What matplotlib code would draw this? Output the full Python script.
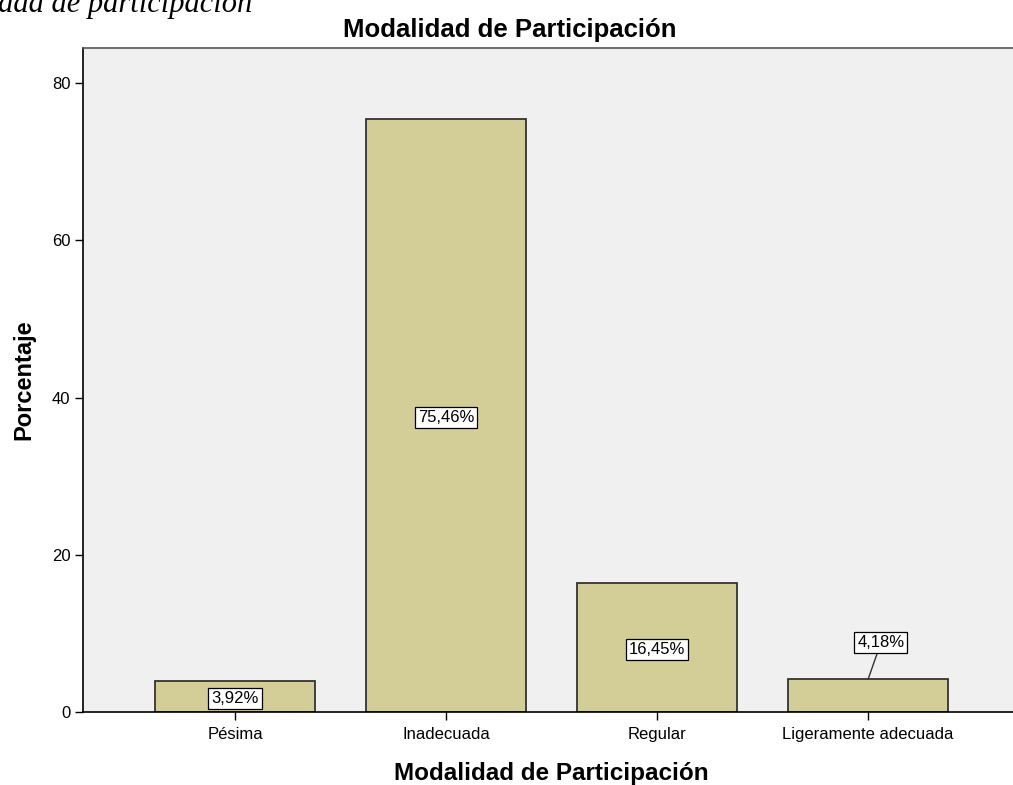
import matplotlib.pyplot as plt

categorias = ['Pésima', 'Inadecuada', 'Regular', 'Ligeramente adecuada']
porcentajes = [3.92, 75.46, 16.45, 4.18]
etiquetas = ['3,92%', '75,46%', '16,45%', '4,18%']

plt.rcParams['font.family'] = ['Liberation Sans', 'DejaVu Sans']

fig = plt.figure(figsize=(10.13, 7.85), dpi=100)
ax = fig.add_axes([0.082, 0.093, 0.925, 0.846])
ax.set_facecolor('#f0f0f0')

x = range(len(categorias))
ax.bar(x, porcentajes, width=0.755, color='#d3ce97', edgecolor='#333333', linewidth=1.3, zorder=2)

caja = dict(boxstyle='square,pad=0.18', facecolor='white', edgecolor='black', linewidth=0.9)
for i, (v, t) in enumerate(zip(porcentajes, etiquetas)):
    if i == 3:
        # etiqueta encima de la barra con línea guía
        ax.annotate(t, xy=(i, v), xytext=(i + 0.06, v + 4.6), ha='center', va='center',
                    fontsize=12, bbox=caja, zorder=4,
                    arrowprops=dict(arrowstyle='-', color='#333333', lw=1, shrinkA=0, shrinkB=0))
    else:
        ax.text(i, v / 2 - 0.3, t, ha='center', va='center', fontsize=12, bbox=caja, zorder=4)

ax.set_xlim(-0.72, 3.72)
ax.set_ylim(0, 84.5)
ax.set_yticks([0, 20, 40, 60, 80])
ax.set_xticks(list(x))
ax.set_xticklabels(categorias)
ax.tick_params(axis='both', direction='out', length=6, width=1, labelsize=12, colors='black')
ax.tick_params(axis='x', pad=5)
ax.tick_params(axis='y', pad=3)

for lado in ['left', 'bottom']:
    ax.spines[lado].set_color('black')
    ax.spines[lado].set_linewidth(1.2)
for lado in ['top', 'right']:
    ax.spines[lado].set_color('#555555')
    ax.spines[lado].set_linewidth(1.2)

ax.set_xlabel('Modalidad de Participación', fontsize=17.5, fontweight='bold', labelpad=14)
ax.set_ylabel('Porcentaje', fontsize=17, fontweight='bold', labelpad=12)

# título del gráfico (centrado algo a la izquierda, como en el original)
fig.text(510 / 1013, 1 - 30 / 785, 'Modalidad de Participación', ha='center', va='center',
         fontsize=18.5, fontweight='bold')

# título de figura recortado en la parte superior
fig.text(253 / 1013, 1 - 12 / 785, 'Modalidad de participación', ha='right', va='baseline',
         fontsize=22, style='italic', family='Liberation Serif')

fig.savefig('out.png', dpi=100)
